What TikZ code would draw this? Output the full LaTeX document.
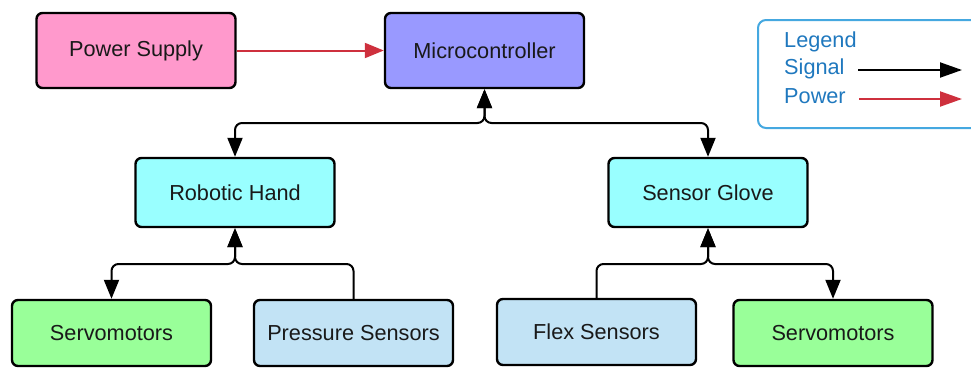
\documentclass[tikz,border=0pt]{standalone}
\usepackage{fontspec}
\setmainfont{Liberation Sans}
\usetikzlibrary{arrows.meta}
\definecolor{pinkf}{HTML}{FF99CC}
\definecolor{mcf}{HTML}{9999FF}
\definecolor{cyanf}{HTML}{99FFFF}
\definecolor{greenf}{HTML}{99FF99}
\definecolor{bluef}{HTML}{C2E3F5}
\definecolor{pwr}{HTML}{CE303D}
\definecolor{legtxt}{HTML}{1F78BE}
\definecolor{legbrd}{HTML}{45A8E0}
\tikzset{
  box/.style={draw=black, line width=2.4pt, rounded corners=6pt, minimum width=199pt, inner sep=0pt, font=\fontsize{21.7}{24}\selectfont, text=black!90},
  tip/.tip={Triangle[length=19pt,width=15pt]},
  legtip/.tip={Triangle[length=22pt,width=15pt]},
  sig/.style={draw=black, line width=2pt, rounded corners=7pt, arrows={-tip}},
  sigboth/.style={draw=black, line width=2pt, rounded corners=7pt, arrows={tip-tip}},
  pow/.style={draw=pwr, line width=2pt, arrows={-tip}},
  legtext/.style={anchor=west, inner sep=0pt, text=legtxt, font=\fontsize{21.7}{24}\selectfont},
}
\begin{document}
\begin{tikzpicture}[x=1pt,y=-1pt]
\useasboundingbox (0,0) rectangle (971,367);
\node[box, fill=pinkf, minimum height=75pt] (ps) at (136,50.5) {Power Supply};
\node[box, fill=mcf, minimum height=75pt] (mc) at (484.5,50.5) {Microcontroller};
\node[box, fill=cyanf, minimum height=69pt] (rh) at (235,192.5) {Robotic Hand};
\node[box, fill=cyanf, minimum height=69pt] (sg) at (708,192.5) {Sensor Glove};
\node[box, fill=greenf, minimum height=66pt] (sv1) at (111.5,333) {Servomotors};
\node[box, fill=bluef, minimum height=66pt] (prs) at (353.5,333) {Pressure Sensors};
\node[box, fill=bluef, minimum height=66pt] (fx) at (596.5,332) {Flex Sensors};
\node[box, fill=greenf, minimum height=66pt] (sv2) at (833,333) {Servomotors};

\coordinate (j1) at (484.5,123);
\coordinate (j2) at (235,264);
\coordinate (j3) at (708,264);

\draw[pow] (ps.east) -- (mc.west);
\draw[sigboth] (rh.north) |- (j1) -- (mc.south);
\draw[sigboth] (sg.north) |- (j1) -- (mc.south);
\draw[sigboth] (sv1.north) |- (j2) -- (rh.south);
\draw[sig] (prs.north) |- (j2) -- (rh.south);
\draw[sig] (fx.north) |- (j3) -- (sg.south);
\draw[sigboth] (sv2.north) |- (j3) -- (sg.south);

% legend
\node[draw=legbrd, line width=2pt, rounded corners=8pt, minimum width=260pt, minimum height=108pt, inner sep=0pt] (legend) at (888,74) {};
\node[legtext] (lt) at (784,42) {Legend};
\node[legtext] (ls) at (784,69) {Signal};
\node[legtext] (lp) at (784,96) {Power};
\coordinate (s1) at (858,70);
\coordinate (s2) at (962,70);
\coordinate (p1) at (859,99);
\coordinate (p2) at (962,99);
\draw[draw=black, line width=2pt, arrows={-legtip}] (s1) -- (s2);
\draw[draw=pwr, line width=2pt, arrows={-legtip}] (p1) -- (p2);
\end{tikzpicture}
\end{document}
